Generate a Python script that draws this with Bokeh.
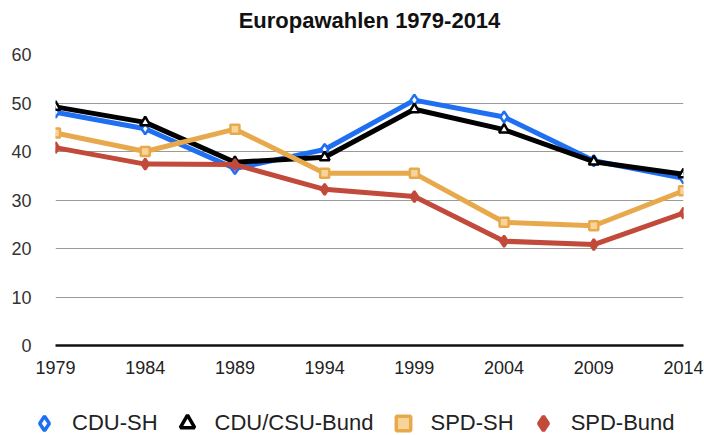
from bokeh.plotting import figure
from bokeh.layouts import column, row
from bokeh.models import Legend, LegendItem, FixedTicker, Range1d
from bokeh.embed import file_html
from bokeh.resources import INLINE

years = [1979, 1984, 1989, 1994, 1999, 2004, 2009, 2014]
cdu_sh = [48.1, 44.7, 36.5, 40.4, 50.6, 47.1, 38.1, 34.5]
cdu_bund = [49.2, 46.0, 37.8, 38.8, 48.7, 44.5, 37.9, 35.3]
spd_sh = [43.8, 40.0, 44.6, 35.5, 35.5, 25.4, 24.7, 31.9]
spd_bund = [40.8, 37.4, 37.3, 32.2, 30.7, 21.5, 20.8, 27.3]
y_ticks = [0, 10, 20, 30, 40, 50, 60]
names = ["CDU-SH", "CDU/CSU-Bund", "SPD-SH", "SPD-Bund"]
title_text = "Europawahlen 1979-2014"

FONT = "Liberation Sans"

p = figure(width=704, height=400, output_backend="svg", toolbar_location=None,
           x_range=Range1d(1979, 2014), y_range=Range1d(0, 60),
           min_border_left=55, min_border_right=21, min_border_top=54,
           min_border_bottom=55,
           title=title_text + "\n ")
p.outline_line_color = None
p.title.align = "center"
p.title.text_font = FONT
p.title.text_font_size = "22px"
p.title.text_font_style = "bold"
p.title.text_color = "#111111"
p.title.text_line_height = 0.85
p.title.standoff = 0

p.xgrid.grid_line_color = None
p.ygrid.grid_line_color = "#9a9a9a"
p.ygrid.grid_line_width = 1.2
p.ygrid.ticker = FixedTicker(ticks=y_ticks)

p.yaxis.ticker = FixedTicker(ticks=y_ticks)
p.yaxis.axis_line_color = None
p.yaxis.major_tick_line_color = None
p.yaxis.minor_tick_line_color = None
p.yaxis.major_label_standoff = 18
p.yaxis.major_label_text_font = FONT
p.yaxis.major_label_text_font_size = "18px"
p.yaxis.major_label_text_color = "#333333"

p.xaxis.ticker = FixedTicker(ticks=years)
p.xaxis.axis_line_color = "#111111"
p.xaxis.axis_line_width = 2.5
p.xaxis.major_tick_line_color = None
p.xaxis.minor_tick_line_color = None
p.xaxis.major_label_standoff = 9
p.xaxis.major_label_text_font = FONT
p.xaxis.major_label_text_font_size = "18px"
p.xaxis.major_label_text_color = "#222222"

styles = [
    ("#1f6ff2", "diamond", "white", 11),
    ("#000000", "triangle", "white", 10),
    ("#e8a94c", "square", "#f6d49a", 9),
    ("#c24a3a", "diamond", "#c24a3a", 11),
]
for vals, (col, mk, fill, sz) in zip([cdu_sh, cdu_bund, spd_sh, spd_bund], styles):
    p.line(years, vals, line_color=col, line_width=5, line_join="round")
    p.scatter(years, vals, marker=mk, size=sz, line_color=col,
              fill_color=fill, line_width=2.5)

# legend strip below the chart
lg = figure(width=704, height=35, output_backend="svg", toolbar_location=None,
            x_range=Range1d(0, 1), y_range=Range1d(0, 1),
            x_axis_location=None, y_axis_location=None,
            min_border_left=0, min_border_right=0, min_border_top=0,
            min_border_bottom=0)
lg.grid.visible = False
lg.outline_line_color = None
items = []
for name, (col, mk, fill, sz) in zip(names, styles):
    r = lg.scatter([-10], [-10], marker=mk, size=sz, line_color=col,
                   fill_color=fill, line_width=3.5)
    items.append(LegendItem(label=name, renderers=[r]))

legend = Legend(items=items, orientation="horizontal", location=(26, -6),
                label_text_font=FONT, label_text_font_size="22px",
                label_text_color="#222222", spacing=11, border_line_color=None,
                background_fill_alpha=0, label_height=20,
                glyph_width=36, glyph_height=36, label_standoff=10,
                margin=0, padding=0)
lg.add_layout(legend, "center")

layout = column(p, row(lg, spacing=0), spacing=0)
open("out.html", "w").write(file_html(layout, INLINE))
